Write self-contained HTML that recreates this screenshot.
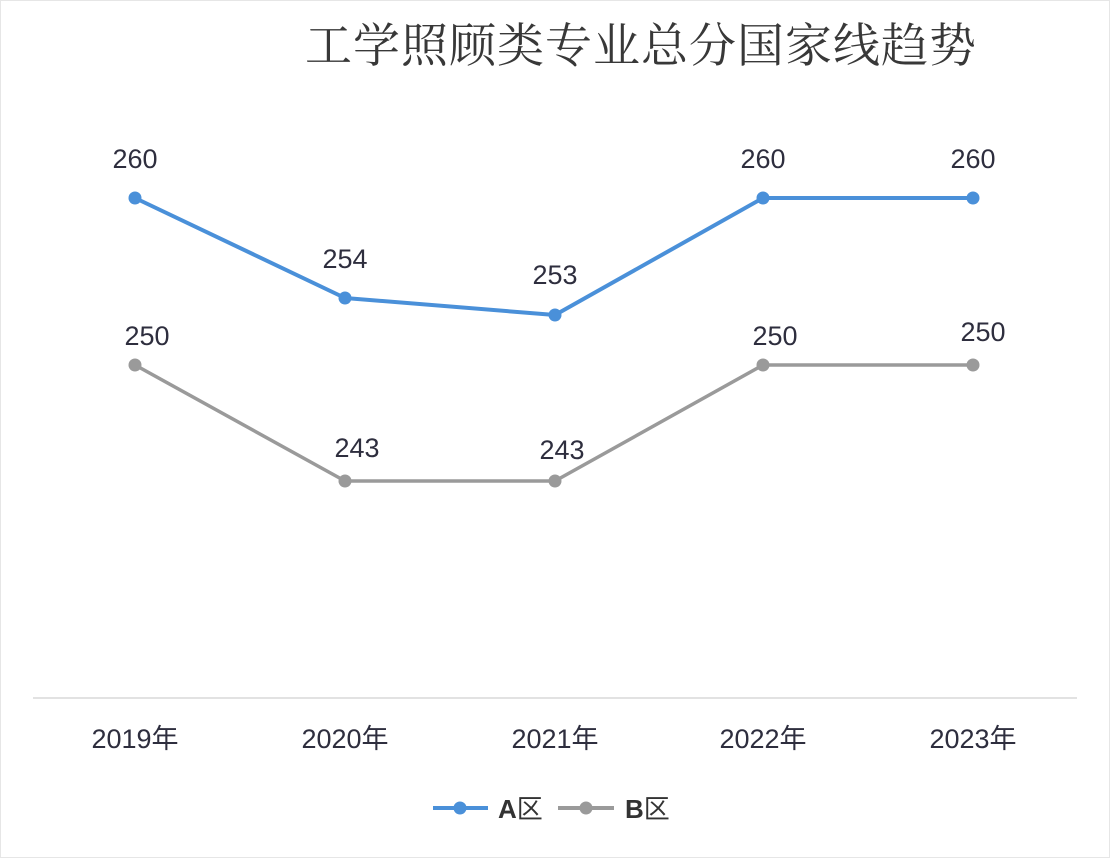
<!DOCTYPE html>
<html><head><meta charset="utf-8"><style>
html,body{margin:0;padding:0;background:#fff;}
svg{display:block;}
</style></head><body>
<svg width="1110" height="858" viewBox="0 0 1110 858" xmlns="http://www.w3.org/2000/svg">
<rect x="0.5" y="0.5" width="1109" height="857" fill="#fff" stroke="#e6e6e6"/>
<text x="641" y="62" text-anchor="middle" font-family="'Noto Serif CJK SC','Liberation Serif',serif" font-size="47" fill="#383838" letter-spacing="1">工学照顾类专业总分国家线趋势</text>
<line x1="33" y1="698" x2="1077" y2="698" stroke="#d9d9d9" stroke-width="1.5"/>
<g font-family="'Liberation Sans','Noto Sans CJK SC',sans-serif" font-size="27" fill="#2e2e3e" text-anchor="middle">
<text x="135" y="748">2019年</text><text x="345" y="748">2020年</text><text x="555" y="748">2021年</text><text x="763" y="748">2022年</text><text x="973" y="748">2023年</text>
</g>
<polyline points="135,198 345,298 555,315 763,198 973,198" fill="none" stroke="#4a90d9" stroke-width="4" stroke-linejoin="round"/>
<polyline points="135,365 345,481 555,481 763,365 973,365" fill="none" stroke="#9a9a9a" stroke-width="3.5" stroke-linejoin="round"/>
<g fill="#4a90d9"><circle cx="135" cy="198" r="6.5"/><circle cx="345" cy="298" r="6.5"/><circle cx="555" cy="315" r="6.5"/><circle cx="763" cy="198" r="6.5"/><circle cx="973" cy="198" r="6.5"/></g>
<g fill="#9a9a9a"><circle cx="135" cy="365" r="6.5"/><circle cx="345" cy="481" r="6.5"/><circle cx="555" cy="481" r="6.5"/><circle cx="763" cy="365" r="6.5"/><circle cx="973" cy="365" r="6.5"/></g>
<g font-family="'Liberation Sans',sans-serif" font-size="27" fill="#2e2e3e" text-anchor="middle">
<text x="135" y="168">260</text><text x="345" y="268">254</text><text x="555" y="284">253</text><text x="763" y="168">260</text><text x="973" y="168">260</text>
<text x="147" y="345">250</text><text x="357" y="457">243</text><text x="562" y="459">243</text><text x="775" y="345">250</text><text x="983" y="341">250</text>
</g>
<line x1="433" y1="808" x2="488" y2="808" stroke="#4a90d9" stroke-width="4"/><circle cx="460" cy="808" r="6.5" fill="#4a90d9"/>
<text x="498" y="818" font-family="'Liberation Sans','Noto Sans CJK SC',sans-serif" font-size="26" font-weight="bold" fill="#333">A<tspan font-weight="normal">区</tspan></text>
<line x1="558" y1="808" x2="614" y2="808" stroke="#9a9a9a" stroke-width="4"/><circle cx="586" cy="808" r="6.5" fill="#9a9a9a"/>
<text x="625" y="818" font-family="'Liberation Sans','Noto Sans CJK SC',sans-serif" font-size="26" font-weight="bold" fill="#333">B<tspan font-weight="normal">区</tspan></text>
</svg>
</body></html>
